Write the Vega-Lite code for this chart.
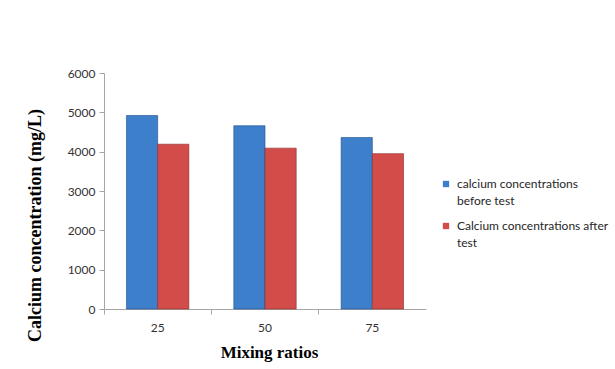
{
  "$schema": "https://vega.github.io/schema/vega-lite/v6.json",
  "autosize": {"type": "none"},
  "width": 322,
  "height": 236,
  "padding": {"left": 104, "top": 73, "right": 189, "bottom": 60},
  "background": "white",
  "data": {
    "values": [
      {"ratio": "25", "series": "calcium concentrations before test", "calcium": 4920},
      {"ratio": "25", "series": "Calcium concentrations after test", "calcium": 4190},
      {"ratio": "50", "series": "calcium concentrations before test", "calcium": 4660},
      {"ratio": "50", "series": "Calcium concentrations after test", "calcium": 4090},
      {"ratio": "75", "series": "calcium concentrations before test", "calcium": 4360},
      {"ratio": "75", "series": "Calcium concentrations after test", "calcium": 3950}
    ]
  },
  "mark": {"type": "bar", "strokeWidth": 1, "strokeOpacity": 0.6},
  "encoding": {
    "x": {
      "field": "ratio",
      "type": "nominal",
      "title": "Mixing ratios",
      "scale": {"paddingInner": 0, "paddingOuter": 0},
      "axis": {
        "labelAngle": 0,
        "bandPosition": 0,
        "domainColor": "#a6a6a6",
        "tickColor": "#a6a6a6",
        "tickSize": 5,
        "labelFont": "Lato",
        "labelFontSize": 12,
        "labelColor": "#333333",
        "labelPadding": 8,
        "titleFont": "Liberation Serif",
        "titleFontSize": 17,
        "titleFontWeight": "bold",
        "titleColor": "#000000",
        "titleX": 165,
        "titleY": 43,
        "titleBaseline": "middle"
      }
    },
    "xOffset": {
      "field": "series",
      "type": "nominal",
      "sort": ["calcium concentrations before test", "Calcium concentrations after test"],
      "scale": {"paddingInner": 0, "paddingOuter": 0.72}
    },
    "y": {
      "field": "calcium",
      "type": "quantitative",
      "title": "Calcium concentration (mg/L)",
      "scale": {"domain": [0, 6000]},
      "axis": {
        "values": [0, 1000, 2000, 3000, 4000, 5000, 6000],
        "format": "d",
        "grid": false,
        "domainColor": "#a6a6a6",
        "tickColor": "#a6a6a6",
        "tickSize": 5,
        "labelFont": "Lato",
        "labelFontSize": 12,
        "labelColor": "#333333",
        "labelPadding": 4,
        "titleFont": "Liberation Serif",
        "titleFontSize": 18,
        "titleFontWeight": "bold",
        "titleColor": "#000000",
        "titleAngle": 270,
        "titleX": -69,
        "titleY": 152,
        "titleAlign": "center",
        "titleBaseline": "middle"
      }
    },
    "color": {
      "field": "series",
      "type": "nominal",
      "sort": ["calcium concentrations before test", "Calcium concentrations after test"],
      "scale": {"range": ["#3d7fca", "#d24c49"]},
      "legend": {
        "title": null,
        "orient": "none",
        "legendX": 336,
        "legendY": 105,
        "symbolType": "square",
        "symbolSize": 40,
        "symbolStrokeWidth": 0.5,
        "labelFont": "Lato",
        "labelFontSize": 12,
        "labelColor": "#262626",
        "labelOffset": 5,
        "labelLimit": 200,
        "rowPadding": 13,
        "labelExpr": "datum.label == 'calcium concentrations before test' ? ['calcium concentrations', 'before test'] : ['Calcium concentrations after', 'test']"
      }
    },
    "stroke": {
      "field": "series",
      "type": "nominal",
      "sort": ["calcium concentrations before test", "Calcium concentrations after test"],
      "scale": {"range": ["#1f4f8a", "#8c2b29"]},
      "legend": null
    }
  },
  "config": {
    "view": {"stroke": null},
    "style": {"guide-label": {"lineHeight": 17}}
  }
}
